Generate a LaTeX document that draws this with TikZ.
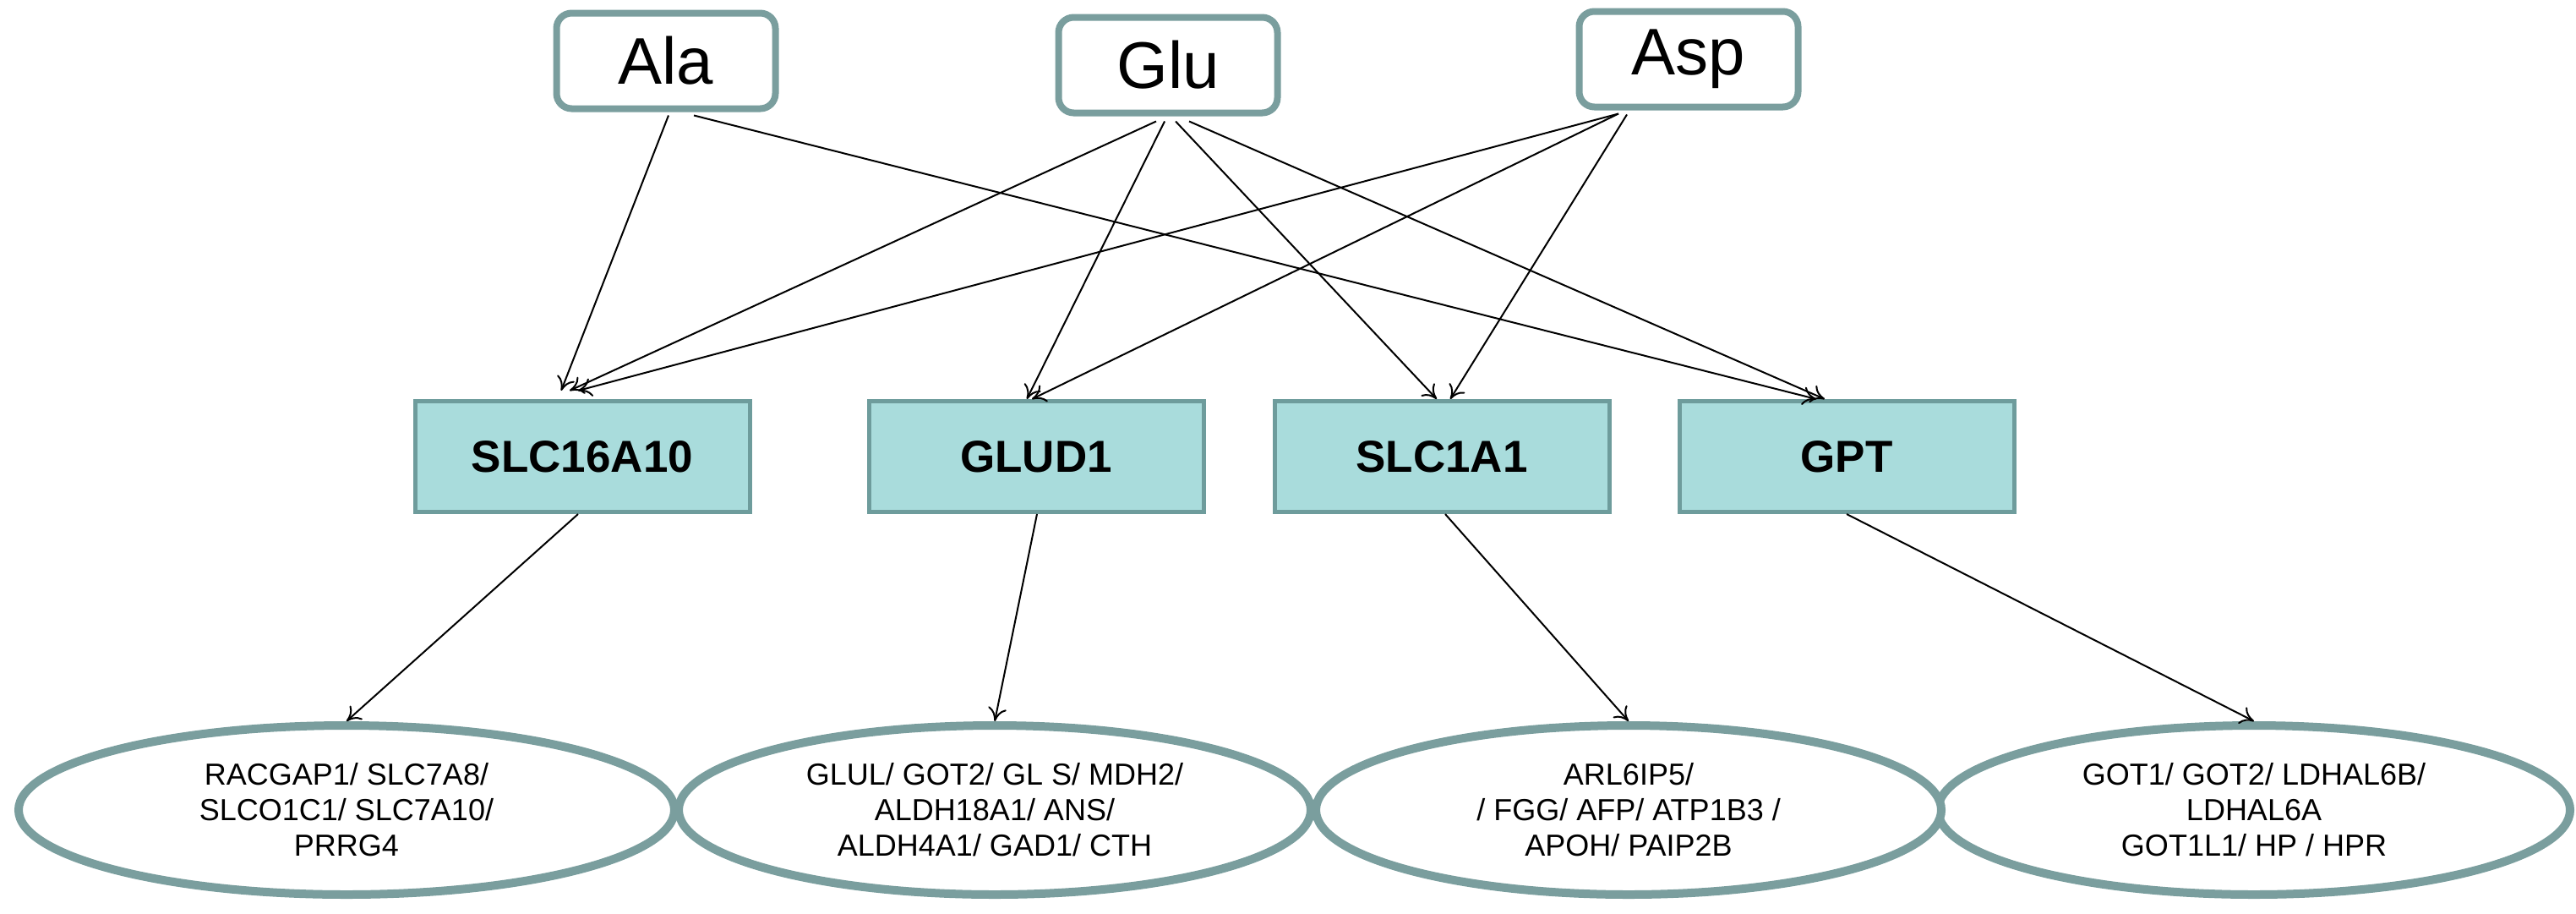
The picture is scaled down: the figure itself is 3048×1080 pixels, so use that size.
\documentclass[tikz,border=0pt]{standalone}
\usepackage{fontspec}
\setmainfont{Liberation Sans}
\usetikzlibrary{shapes.geometric,arrows.meta,calc}
\definecolor{bord}{HTML}{7A9E9E}
\definecolor{boxfill}{HTML}{A9DCDC}
\definecolor{boxbord}{HTML}{6E9C9C}
\begin{document}
\begin{tikzpicture}[x=1pt,y=-1pt,
  top/.style={draw=bord,line width=8pt,rounded corners=18pt,fill=white,minimum width=259pt,minimum height=113pt,font=\fontsize{78}{80}\selectfont},
  mid/.style={draw=boxbord,line width=5pt,fill=boxfill,minimum width=396pt,minimum height=131pt,font=\fontsize{53}{55}\selectfont\bfseries},
  ell/.style={draw=bord,line width=10pt,ellipse,fill=white,minimum width={#1},minimum height=200pt,inner sep=0pt,align=center,font=\fontsize{36}{42}\selectfont},
  arr/.style={line width=2pt,-{To[length=16pt,width=22pt,line width=2pt]}}]
\useasboundingbox (0,0) rectangle (3048,1080);
\node[top] (ala) at (788,72) {Ala};
\node[top] (glu) at (1382,77) {Glu};
\node[top] (asp) at (1998,70) {Asp};
\node[mid] (s16) at (689,540) {SLC16A10};
\node[mid] (glud) at (1226,540) {GLUD1};
\node[mid] (s1a1) at (1706,540) {SLC1A1};
\node[mid] (gpt) at (2185,540) {GPT};
\node[ell=776pt] (e1) at (410,958) {RACGAP1/ SLC7A8/\\SLCO1C1/ SLC7A10/\\PRRG4};
\node[ell=748pt] (e4) at (2667,958) {GOT1/ GOT2/ LDHAL6B/\\LDHAL6A\\GOT1L1/ HP / HPR};
\node[ell=740pt] (e3) at (1927,958) {ARL6IP5/\\/ FGG/ AFP/ ATP1B3 /\\APOH/ PAIP2B};
\node[ell=748pt] (e2) at (1177,958) {GLUL/ GOT2/ GL S/ MDH2/\\ALDH18A1/ ANS/\\ALDH4A1/ GAD1/ CTH};
\coordinate (a1) at ($(ala.south)+(3,4)$);
\coordinate (a2) at ($(ala.south)+(33,4)$);
\coordinate (g1) at ($(glu.south)+(-14,6)$);
\coordinate (g2) at ($(glu.south)+(-4,6)$);
\coordinate (g3) at ($(glu.south)+(9,6)$);
\coordinate (g4) at ($(glu.south)+(25,6)$);
\coordinate (p1) at ($(asp.south)+(-83,4)$);
\coordinate (p2) at ($(asp.south)+(-73,5)$);
\coordinate (t1) at ($(s16.north)+(-25,-10)$);
\coordinate (t2) at ($(s16.north)+(-15,-10)$);
\coordinate (t3) at ($(s16.north)+(-5,-10)$);
\coordinate (u1) at ($(glud.north)+(-11,0)$);
\coordinate (u2) at ($(glud.north)+(-5,0)$);
\coordinate (v1) at ($(s1a1.north)+(-6,0)$);
\coordinate (v2) at ($(s1a1.north)+(10,0)$);
\coordinate (w1) at ($(gpt.north)+(-36,0)$);
\coordinate (w2) at ($(gpt.north)+(-26,0)$);
\draw[arr] (a1) -- (t1);
\draw[arr] (a2) -- (w1);
\draw[arr] (g1) -- (t2);
\draw[arr] (g2) -- (u1);
\draw[arr] (g3) -- (v1);
\draw[arr] (g4) -- (w2);
\draw[arr] (p1) -- (t3);
\draw[arr] (p1) -- (u2);
\draw[arr] (p2) -- (v2);
\draw[arr] ($(s16.south)+(-5,0)$) -- (e1.north);
\draw[arr] ($(glud.south)+(1,0)$) -- (e2.north);
\draw[arr] ($(s1a1.south)+(4,0)$) -- (e3.north);
\draw[arr] (gpt.south) -- (e4.north);
\end{tikzpicture}
\end{document}
